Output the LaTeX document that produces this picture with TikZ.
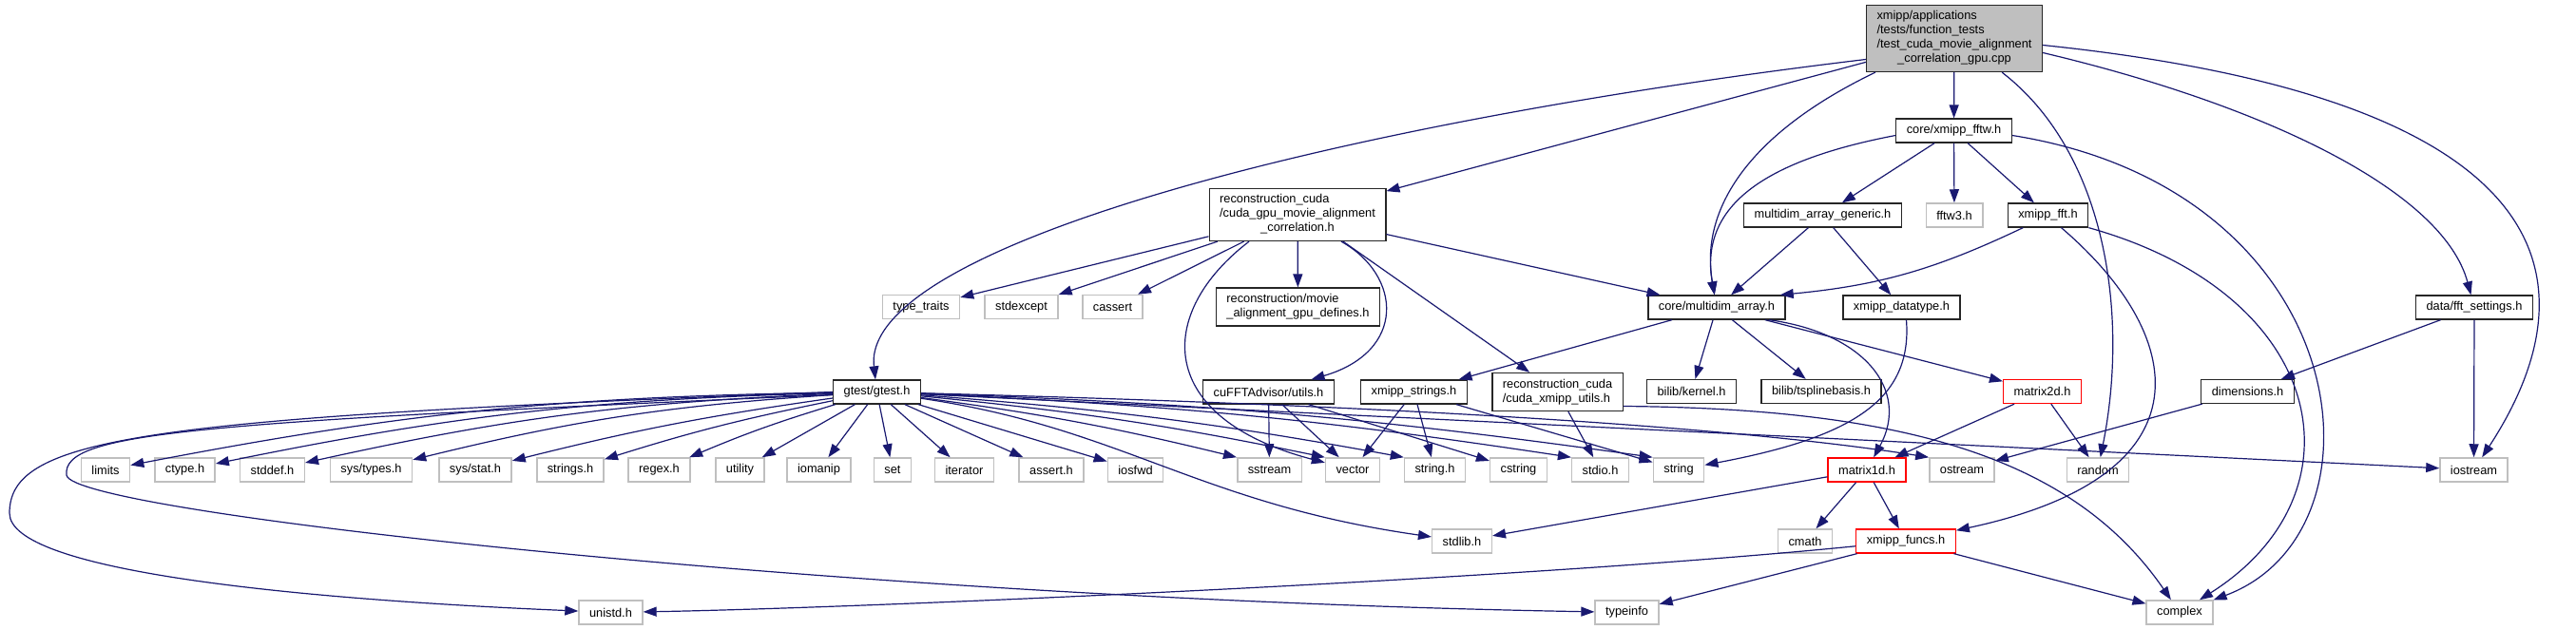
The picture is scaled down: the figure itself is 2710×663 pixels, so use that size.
\documentclass[tikz,border=0pt]{standalone}
\usepackage{fontspec}
\setmainfont{Liberation Sans}
\usetikzlibrary{arrows.meta}
\definecolor{edgeblue}{HTML}{191970}
\definecolor{grey75}{HTML}{BFBFBF}

\begin{document}
\begin{tikzpicture}[x=1pt, y=1pt,
    hdr/.style={draw=black!85, fill=white, rectangle, line width=1.3pt,
                minimum height=25pt, inner xsep=11pt, inner ysep=5pt,
                font=\fontsize{12.8}{15}\selectfont},
    syshdr/.style={hdr, draw=grey75, line width=1.5pt},
    cuthdr/.style={hdr, draw=red},
    mainhdr/.style={hdr, fill=grey75},
    inc/.style={draw=edgeblue, line width=1.2pt, -{Triangle[length=14pt, width=10pt]}}
]
\fill[white] (0,0) rectangle (2710,-663);
\useasboundingbox (0,0) rectangle (2710,-663);

% Fisierul testat
\node[mainhdr] (main) at (2056,-40.5)
    {\begin{tabular}{@{}l@{}}xmipp/applications\\/tests/function\_tests\\/test\_cuda\_movie\_alignment\\\multicolumn{1}{@{}c@{}}{\_correlation\_gpu.cpp}\end{tabular}};

% Nivelul 1-2
\node[hdr] (fftw)     at (2055.5,-137.5) {core/xmipp\_fftw.h};
\node[hdr] (cudagpu)  at (1365,-226)
    {\begin{tabular}{@{}l@{}}reconstruction\_cuda\\/cuda\_gpu\_movie\_alignment\\\multicolumn{1}{@{}c@{}}{\_correlation.h}\end{tabular}};
\node[hdr] (generic)  at (1917.5,-226.5) {multidim\_array\_generic.h};
\node[syshdr] (fftw3) at (2056,-226.5)   {fftw3.h};
\node[hdr] (xfft)     at (2154.5,-226.5) {xmipp\_fft.h};

% Nivelul 3
\node[syshdr] (typetraits) at (969,-323)    {type\_traits};
\node[syshdr] (stdexcept)  at (1074.5,-323) {stdexcept};
\node[syshdr] (cassert)    at (1170.5,-323) {cassert};
\node[hdr] (defines)       at (1365.5,-323)
    {\begin{tabular}{@{}l@{}}reconstruction/movie\\\_alignment\_gpu\_defines.h\end{tabular}};
\node[hdr] (multidim)      at (1806,-323.5) {core/multidim\_array.h};
\node[hdr] (datatype)      at (2000.5,-323.5) {xmipp\_datatype.h};
\node[hdr] (fftsettings)   at (2603,-323.5) {data/fft\_settings.h};

% Nivelul 4
\node[hdr] (gtest)      at (922.5,-412.5)  {gtest/gtest.h};
\node[hdr] (cufft)      at (1334.5,-412.5) {cuFFTAdvisor/utils.h};
\node[hdr] (xstrings)   at (1487.5,-412.5) {xmipp\_strings.h};
\node[hdr] (cudautils)  at (1638.5,-412.5)
    {\begin{tabular}{@{}l@{}}reconstruction\_cuda\\/cuda\_xmipp\_utils.h\end{tabular}};
\node[hdr] (kernel)     at (1779.5,-412)   {bilib/kernel.h};
\node[hdr] (tspline)    at (1916,-412)     {bilib/tsplinebasis.h};
\node[cuthdr] (matrix2d) at (2148.5,-412)  {matrix2d.h};
\node[hdr] (dimensions) at (2364.5,-412)   {dimensions.h};

% Nivelul 5 (antete de sistem)
\node[syshdr] (limits)   at (111,-494.5)    {limits};
\node[syshdr] (ctype)    at (194.5,-494.5)  {ctype.h};
\node[syshdr] (stddef)   at (286.5,-494.5)  {stddef.h};
\node[syshdr] (systypes) at (390.5,-494.5)  {sys/types.h};
\node[syshdr] (sysstat)  at (500,-494.5)    {sys/stat.h};
\node[syshdr] (strings)  at (600,-494.5)    {strings.h};
\node[syshdr] (regex)    at (693.5,-494.5)  {regex.h};
\node[syshdr] (utility)  at (778.5,-494.5)  {utility};
\node[syshdr] (iomanip)  at (861.5,-494.5)  {iomanip};
\node[syshdr] (set)      at (939,-494.5)    {set};
\node[syshdr] (iterator) at (1014.5,-494.5) {iterator};
\node[syshdr] (asserth)  at (1106,-494.5)   {assert.h};
\node[syshdr] (iosfwd)   at (1194.5,-494.5) {iosfwd};
\node[syshdr] (sstream)  at (1335.5,-494.5) {sstream};
\node[syshdr] (vector)   at (1423,-494.5)   {vector};
\node[syshdr] (stringh)  at (1509.5,-494.5) {string.h};
\node[syshdr] (cstring)  at (1597.5,-494.5) {cstring};
\node[syshdr] (stdio)    at (1683.5,-494.5) {stdio.h};
\node[syshdr] (string)   at (1766,-494.5)   {string};
\node[cuthdr] (matrix1d) at (1964,-494.5)   {matrix1d.h};
\node[syshdr] (ostream)  at (2064,-494.5)   {ostream};
\node[syshdr] (random)   at (2207,-494.5)   {random};
\node[syshdr] (iostream) at (2602.5,-494.5) {iostream};

% Nivelul 6-7
\node[syshdr] (stdlib)   at (1538,-569.5)   {stdlib.h};
\node[syshdr] (cmath)    at (1899,-569.5)   {cmath};
\node[cuthdr] (funcs)    at (2005,-569.5)   {xmipp\_funcs.h};
\node[syshdr] (unistd)   at (642.5,-644.5)  {unistd.h};
\node[syshdr] (typeinfo) at (1711.5,-644.5) {typeinfo};
\node[syshdr] (complex)  at (2293,-644.5)   {complex};

% Include-uri din fisierul testat
\draw[inc] ([yshift=-22pt]main.west) .. controls (1400,-130) and (905,-260) .. (gtest);
\draw[inc] (main) -- (cudagpu);
\draw[inc] ([xshift=10pt]main.south west) .. controls (1840,-140) and (1788,-220) .. (multidim);
\draw[inc] (main) -- (fftw);
\draw[inc] ([xshift=-43pt]main.south east) .. controls (2215,-160) and (2240,-330) .. (random);
\draw[inc] ([yshift=-15pt]main.east) .. controls (2380,-110) and (2570,-200) .. (fftsettings);
\draw[inc] ([yshift=-7pt]main.east) .. controls (2750,-110) and (2710,-330) .. (iostream);

% core/xmipp_fftw.h
\draw[inc] ([yshift=-5pt]fftw.west) .. controls (1850,-170) and (1788,-220) .. (multidim);
\draw[inc] (fftw) -- (generic);
\draw[inc] (fftw) -- (fftw3);
\draw[inc] (fftw) -- (xfft);
\draw[inc] ([yshift=-5pt]fftw.east) .. controls (2480,-200) and (2520,-560) .. (complex);

% multidim_array_generic.h si xmipp_fft.h
\draw[inc] (generic) -- (multidim);
\draw[inc] (generic) -- (datatype);
\draw[inc] (xfft) to[bend left=10] ([xshift=-6pt]multidim.north east);
\draw[inc] ([xshift=14pt]xfft.south) .. controls (2300,-352) and (2330,-500) .. (funcs);
\draw[inc] (xfft.south east) .. controls (2450,-310) and (2490,-520) .. (complex);

% cuda_gpu_movie_alignment_correlation.h
\draw[inc] (cudagpu) -- (typetraits);
\draw[inc] (cudagpu) -- (stdexcept);
\draw[inc] (cudagpu) -- (cassert);
\draw[inc] (cudagpu) -- (defines);
\draw[inc] (cudagpu) -- (multidim);
\draw[inc] ([xshift=-51pt]cudagpu.south) .. controls (1215,-330) and (1215,-440) .. (vector);
\draw[inc] ([xshift=46pt]cudagpu.south) .. controls (1475,-290) and (1480,-370) .. (cufft);
\draw[inc] ([xshift=48pt]cudagpu.south) -- (cudautils);

% core/multidim_array.h
\draw[inc] (multidim) -- (xstrings);
\draw[inc] (multidim) -- (kernel);
\draw[inc] (multidim) -- (tspline);
\draw[inc] (multidim) -- (matrix2d);
\draw[inc] ([xshift=55pt]multidim.south) .. controls (1960,-350) and (2010,-410) .. (matrix1d);
\draw[inc] ([xshift=5pt]datatype.south) .. controls (2012,-420) and (1950,-460) .. (string);

% Nivelul 4 -> antete
\draw[inc] (cufft) -- (sstream);
\draw[inc] (cufft) -- (vector);
\draw[inc] (cufft) -- (cstring);
\draw[inc] (xstrings) -- (vector);
\draw[inc] (xstrings) -- (stringh);
\draw[inc] (xstrings) -- (string);
\draw[inc] (cudautils) -- (stdio);
\draw[inc] ([yshift=-15pt]cudautils.east) .. controls (2000,-430) and (2180,-480) .. (complex);
\draw[inc] (matrix2d) -- (matrix1d);
\draw[inc] (matrix2d) -- (random);
\draw[inc] (dimensions) -- (ostream);
\draw[inc] (fftsettings) -- (dimensions);
\draw[inc] (fftsettings) -- (iostream);

% matrix1d.h si xmipp_funcs.h
\draw[inc] (matrix1d) -- (stdlib);
\draw[inc] (matrix1d) -- (cmath);
\draw[inc] (matrix1d) -- (funcs);
\draw[inc] (funcs) .. controls (1600,-610) and (900,-640) .. (unistd);
\draw[inc] (funcs) -- (typeinfo);
\draw[inc] (funcs) -- (complex);

% gtest/gtest.h
\draw[inc] (gtest.west) .. controls (150,-440) and (10,-460) .. (10,-540)
    .. controls (10,-600) and (300,-630) .. (unistd);
\draw[inc] ([yshift=-3pt]gtest.west) .. controls (200,-445) and (65,-455) .. (70,-500)
    .. controls (75,-540) and (900,-630) .. (typeinfo);
\foreach \h in {limits, ctype, stddef, systypes} {
    \draw[inc] (gtest) to[bend right=5] (\h);
}
\foreach \h in {sysstat, strings, regex} {
    \draw[inc] (gtest) to[bend right=3] (\h);
}
\foreach \h in {utility, iomanip, set, iterator, asserth, iosfwd} {
    \draw[inc] (gtest) -- (\h);
}
\foreach \h in {sstream, vector, stringh, stdio, string} {
    \draw[inc] (gtest) to[bend left=3] (\h.north west);
}
\draw[inc] (gtest) .. controls (1400,-425) and (1800,-445) .. (ostream.north west);
\draw[inc] (gtest) -- (iostream);
\draw[inc] (gtest) .. controls (1180,-450) and (1260,-530) .. (stdlib);

\end{tikzpicture}
\end{document}
